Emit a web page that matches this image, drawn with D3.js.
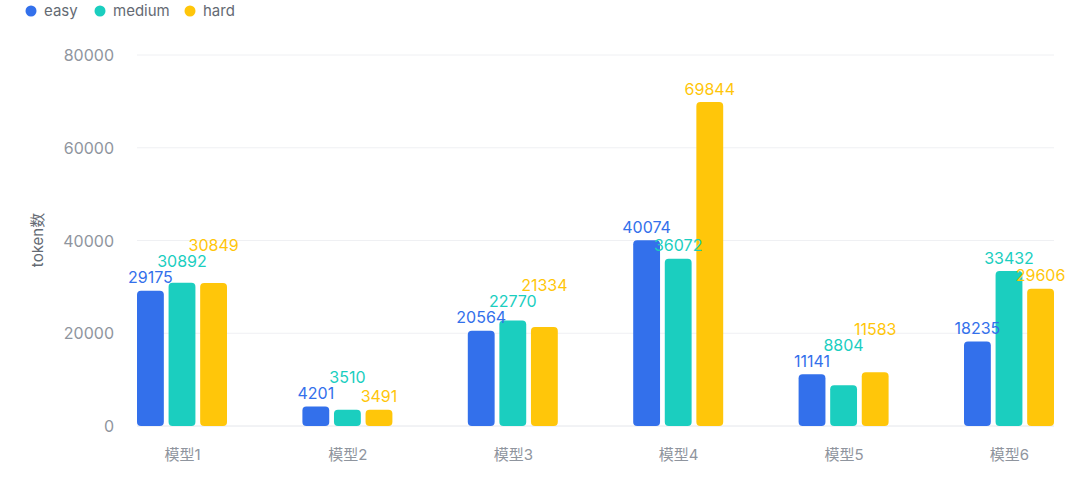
<!DOCTYPE html>
<html>
<head>
<meta charset="utf-8">
<script src="https://cdn.jsdelivr.net/npm/d3@7"></script>
<style>
  body { margin: 0; background: #fff; }
  svg text { font-family: Inter, "Noto Sans CJK SC", sans-serif; }
</style>
</head>
<body>
<div id="chart"></div>
<script>
// Data
var categories = ['模型1', '模型2', '模型3', '模型4', '模型5', '模型6'];
var series = ['easy', 'medium', 'hard'];
var easy = [29175, 4201, 20564, 40074, 11141, 18235];
var medium = [30892, 3510, 22770, 36072, 8804, 33432];
var hard = [30849, 3491, 21334, 69844, 11583, 29606];
var yTicks = [0, 20000, 40000, 60000, 80000];
var colors = ['#3370EB', '#1BCEBF', '#FFC60A'];

var values = {easy: easy, medium: medium, hard: hard};

// Setup
var width = 1080, height = 489;
var plot = {left: 137, right: 1054, top: 55, bottom: 426};
var groupWidth = 90;

var svg = d3.select('#chart')
  .append('svg')
  .attr('width', width)
  .attr('height', height);

var x = d3.scalePoint()
  .domain(categories)
  .range([plot.left + groupWidth/2, plot.right - groupWidth/2]);

var xInner = d3.scaleBand()
  .domain(series)
  .range([-groupWidth/2, groupWidth/2])
  .paddingInner(0.15);

var y = d3.scaleLinear()
  .domain([0, 80000])
  .range([plot.bottom, plot.top]);

var color = d3.scaleOrdinal().domain(series).range(colors);

// Grid lines
svg.append('g')
  .selectAll('line')
  .data(yTicks)
  .enter()
  .append('line')
  .attr('x1', plot.left)
  .attr('x2', plot.right)
  .attr('y1', function(d){ return y(d); })
  .attr('y2', function(d){ return y(d); })
  .attr('stroke', function(d){ return d === 0 ? '#e4e6eb' : '#eff0f3'; })
  .attr('stroke-width', 1);

// Y axis (ticks only, no domain)
var yAxis = svg.append('g')
  .attr('transform', 'translate(114,0)')
  .call(d3.axisLeft(y).tickValues(yTicks).tickSize(0).tickPadding(0).tickFormat(d3.format('d')));
yAxis.select('.domain').remove();
yAxis.selectAll('text')
  .attr('fill', '#8f959e')
  .style('font-size', '16px')
  .attr('dy', '0.35em');

// Y axis title
svg.append('text')
  .attr('transform', 'translate(38,240) rotate(-90)')
  .attr('text-anchor', 'middle')
  .attr('dy', '0.35em')
  .attr('fill', '#646a73')
  .style('font-size', '15px')
  .text('token数');

// X axis labels
var xAxis = svg.append('g')
  .attr('transform', 'translate(0,' + plot.bottom + ')')
  .call(d3.axisBottom(x).tickSize(0).tickPadding(0));
xAxis.select('.domain').remove();
xAxis.selectAll('text')
  .attr('y', 29)
  .attr('dy', '0.35em')
  .attr('fill', '#8f959e')
  .style('font-size', '15px');

// Bars
var groups = svg.selectAll('.group')
  .data(categories)
  .enter()
  .append('g')
  .attr('class', 'group')
  .attr('transform', function(d){ return 'translate(' + x(d) + ',0)'; });

groups.selectAll('rect')
  .data(function(c, i){
    return series.map(function(s){ return {cat: c, key: s, value: values[s][i]}; });
  })
  .enter()
  .append('rect')
  .attr('x', function(d){ return xInner(d.key); })
  .attr('width', xInner.bandwidth())
  .attr('y', function(d){ return y(d.value); })
  .attr('height', function(d){ return y(0) - y(d.value); })
  .attr('rx', 4)
  .attr('fill', function(d){ return color(d.key); });

// Value labels with simple overlap avoidance (push up)
var labelH = 16;
var labels = [];
categories.forEach(function(c, i){
  series.forEach(function(s){
    var v = values[s][i];
    labels.push({
      key: s, value: v,
      cx: x(c) + xInner(s) + xInner.bandwidth()/2,
      cy: y(v) - 13
    });
  });
});

var labelText = svg.append('g')
  .selectAll('text')
  .data(labels)
  .enter()
  .append('text')
  .attr('text-anchor', 'middle')
  .attr('dy', '0.35em')
  .attr('fill', function(d){ return color(d.key); })
  .style('font-size', '16px')
  .text(function(d){ return d.value; })
  .each(function(d){ d.w = this.getComputedTextLength(); });

var placed = [];
labels.forEach(function(d){
  var moved = true;
  while (moved) {
    moved = false;
    placed.forEach(function(p){
      var hOverlap = Math.abs(d.cx - p.cx) < (d.w + p.w)/2;
      var vOverlap = Math.abs(d.cy - p.cy) < labelH;
      if (hOverlap && vOverlap) {
        d.cy = p.cy - labelH;
        moved = true;
      }
    });
  }
  placed.push(d);
});

labelText
  .attr('x', function(d){ return d.cx; })
  .attr('y', function(d){ return d.cy; });

// Legend
var legend = svg.append('g')
  .selectAll('g')
  .data(series)
  .enter()
  .append('g');

var legendX = [31, 100, 190];
legend.append('circle')
  .attr('cx', function(d, i){ return legendX[i]; })
  .attr('cy', 11)
  .attr('r', 5.5)
  .attr('fill', function(d){ return color(d); });

legend.append('text')
  .attr('x', function(d, i){ return legendX[i] + 13; })
  .attr('y', 11)
  .attr('dy', '0.35em')
  .attr('fill', '#646a73')
  .style('font-size', '15px')
  .text(function(d){ return d; });
</script>
</body>
</html>
